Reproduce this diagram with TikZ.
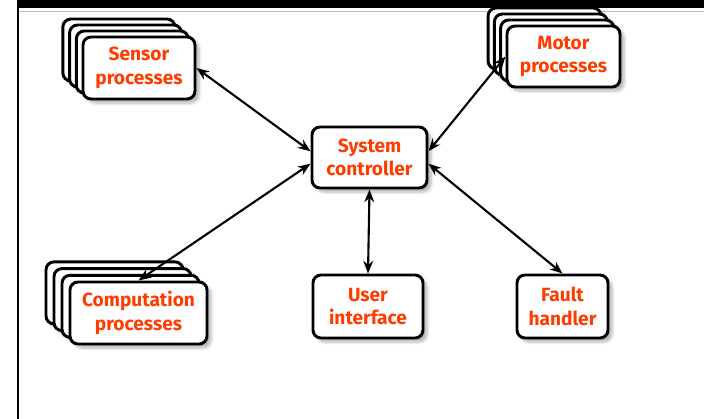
\documentclass[tikz,border=0pt]{standalone}
\usepackage{fontspec}
\setmainfont{Fira Sans}
\usetikzlibrary{arrows.meta,shadows.blur}

\definecolor{labelred}{RGB}{255,60,0}

\begin{document}
\begin{tikzpicture}[
    x=0.025cm, y=-0.025cm,
    card/.style={rectangle, rounded corners=0.2cm, draw, line width=2.1pt, fill=white,
        align=center, font=\fontsize{13.6}{16.8}\selectfont\bfseries, text=labelred,
        blur shadow={shadow xshift=0.1cm, shadow yshift=-0.1cm, shadow opacity=30, shadow blur steps=6}},
    link/.style={{Stealth[length=9pt,width=7pt]}-{Stealth[length=9pt,width=7pt]}, line width=1.5pt}
]
\useasboundingbox (0,0) rectangle (704,419);

% Slide frame
\fill (18,0) rectangle (704,8.5);
\draw[black!25, line width=0.8pt] (19,11.5) -- (704,11.5);
\draw[line width=1.4pt] (18,0) -- (18,419);

% Stacked process groups
\foreach \i in {3,2,1}
  \node[card, minimum width=2.8cm, minimum height=1.55cm] (sensor\i) at (139-6.7*\i,68-6*\i) {};
\node[card, minimum width=2.8cm, minimum height=1.55cm] (sensor) at (139,68) {Sensor\\processes};

\foreach \i in {3,2,1}
  \node[card, minimum width=2.825cm, minimum height=1.525cm] (motor\i) at (563.5-6.3*\i,56.5-6*\i) {};
\node[card, minimum width=2.825cm, minimum height=1.525cm] (motor) at (563.5,56.5) {Motor\\processes};

\foreach \i in {3,2,1}
  \node[card, minimum width=3.425cm, minimum height=1.55cm] (comp\i) at (138.5-8*\i,313-6.7*\i) {};
\node[card, minimum width=3.425cm, minimum height=1.55cm] (comp) at (138.5,313) {Computation\\processes};

% Controller and single processes
\node[card, minimum width=2.875cm, minimum height=1.525cm] (ctrl) at (369.5,157.5) {System\\controller};
\node[card, minimum width=2.75cm, minimum height=1.575cm] (user) at (368,306.5) {User\\interface};
\node[card, minimum width=2.275cm, minimum height=1.575cm] (fault) at (562.5,306.5) {Fault\\handler};

% Links
\draw[link] (sensor.east) -- (ctrl.174);
\draw[link] (comp.north) -- (ctrl.186);
\draw[link] (motor.west) -- (ctrl.6);
\draw[link] (ctrl.354) -- (fault.north);
\draw[link] (ctrl.south) -- (user.north);

\end{tikzpicture}
\end{document}
